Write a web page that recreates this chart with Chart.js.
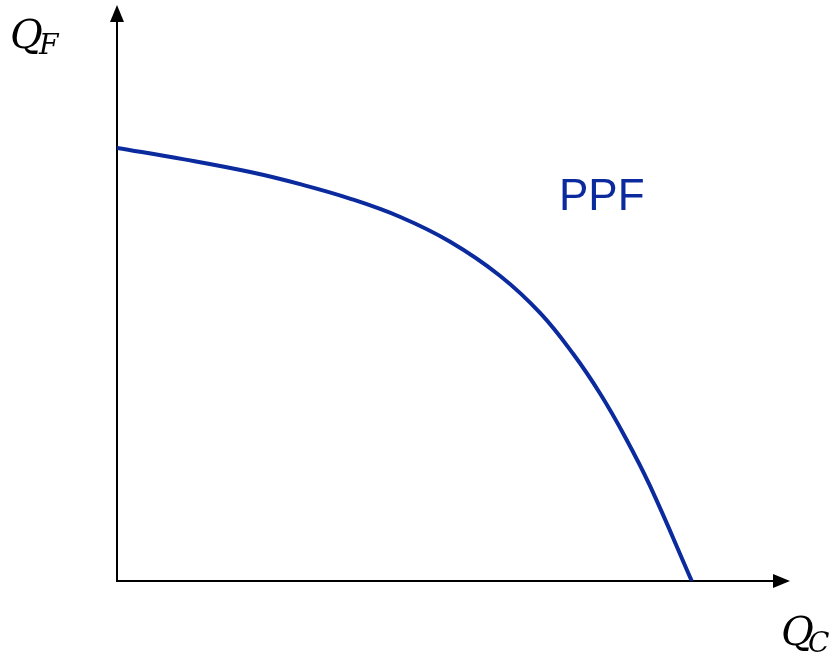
<!DOCTYPE html>
<html>
<head>
<meta charset="utf-8">
<script src="https://cdn.jsdelivr.net/npm/chart.js@4.4.1/dist/chart.umd.min.js"></script>
<style>
  html, body { margin: 0; padding: 0; background: #fff; }
  #wrap { width: 833px; height: 658px; }
</style>
</head>
<body>
<div id="wrap"><canvas id="ppf" width="833" height="658"></canvas></div>
<script>
// curva PPF, valores (unidades arbitrarias)
const qcValues = [0, 1.0, 1.98, 2.72, 3.46, 4.21, 4.95, 5.69, 6.29, 6.78, 7.18, 7.55, 7.92, 8.54];
const qfValues = [7.52, 7.32, 7.10, 6.89, 6.64, 6.32, 5.89, 5.30, 4.65, 3.94, 3.25, 2.50, 1.65, 0];
const curveLabel = "PPF";
const xAxisLabel = "C";
const yAxisLabel = "F";

const points = qcValues.map((x, i) => ({ x: x, y: qfValues[i] }));

const blue = "#0a2a9e";

// dibujo los ejes con flechas
const axesPlugin = {
    id: "axesArrows",
    beforeDatasetsDraw(chart) {
        const ctx = chart.ctx;
        const xs = chart.scales.x;
        const ys = chart.scales.y;
        const x0 = xs.getPixelForValue(0);
        const y0 = ys.getPixelForValue(0);
        const xEnd = xs.getPixelForValue(xs.max);
        const yEnd = ys.getPixelForValue(ys.max);
        ctx.save();
        ctx.strokeStyle = "#000";
        ctx.fillStyle = "#000";
        ctx.lineWidth = 2;
        ctx.beginPath();
        ctx.moveTo(x0, y0 + 1);
        ctx.lineTo(x0, yEnd + 14);
        ctx.moveTo(x0 - 1, y0);
        ctx.lineTo(xEnd - 14, y0);
        ctx.stroke();
        // flecha vertical
        ctx.beginPath();
        ctx.moveTo(x0, yEnd);
        ctx.lineTo(x0 - 7, yEnd + 17);
        ctx.lineTo(x0 + 7, yEnd + 17);
        ctx.closePath();
        ctx.fill();
        // flecha horizontal
        ctx.beginPath();
        ctx.moveTo(xEnd, y0);
        ctx.lineTo(xEnd - 17, y0 - 7);
        ctx.lineTo(xEnd - 17, y0 + 7);
        ctx.closePath();
        ctx.fill();
        ctx.restore();
    },
    afterDraw(chart) {
        const ctx = chart.ctx;
        ctx.save();
        ctx.fillStyle = "#000";
        ctx.textBaseline = "alphabetic";
        // Q_F
        ctx.font = "italic 40px 'DejaVu Serif'";
        ctx.fillText("Q", 10, 48);
        ctx.font = "italic 28px 'DejaVu Serif'";
        ctx.fillText(yAxisLabel, 39, 54);
        // Q_C
        ctx.font = "italic 40px 'DejaVu Serif'";
        ctx.fillText("Q", 781, 645);
        ctx.font = "italic 28px 'DejaVu Serif'";
        ctx.fillText(xAxisLabel, 808, 652);
        // PPF
        ctx.fillStyle = blue;
        ctx.font = "44px 'Liberation Sans'";
        ctx.fillText(curveLabel, 559, 210);
        ctx.restore();
    }
};

const graph = document.getElementById("ppf");

const config = {
    type: "scatter",
    data: {
        datasets: [{
            label: curveLabel,
            data: points,
            showLine: true,
            borderColor: blue,
            borderWidth: 4,
            pointRadius: 0,
            tension: 0.4,
            fill: false
        }]
    },
    options: {
        responsive: false,
        animation: false,
        layout: { padding: { left: 117, right: 43, top: 5, bottom: 77 } },
        plugins: {
            legend: { display: false },
            tooltip: { enabled: false }
        },
        scales: {
            x: { type: "linear", min: 0, max: 10, display: false },
            y: { type: "linear", min: 0, max: 10, display: false }
        }
    },
    plugins: [axesPlugin]
};

let myChart = new Chart(graph, config);
</script>
</body>
</html>
